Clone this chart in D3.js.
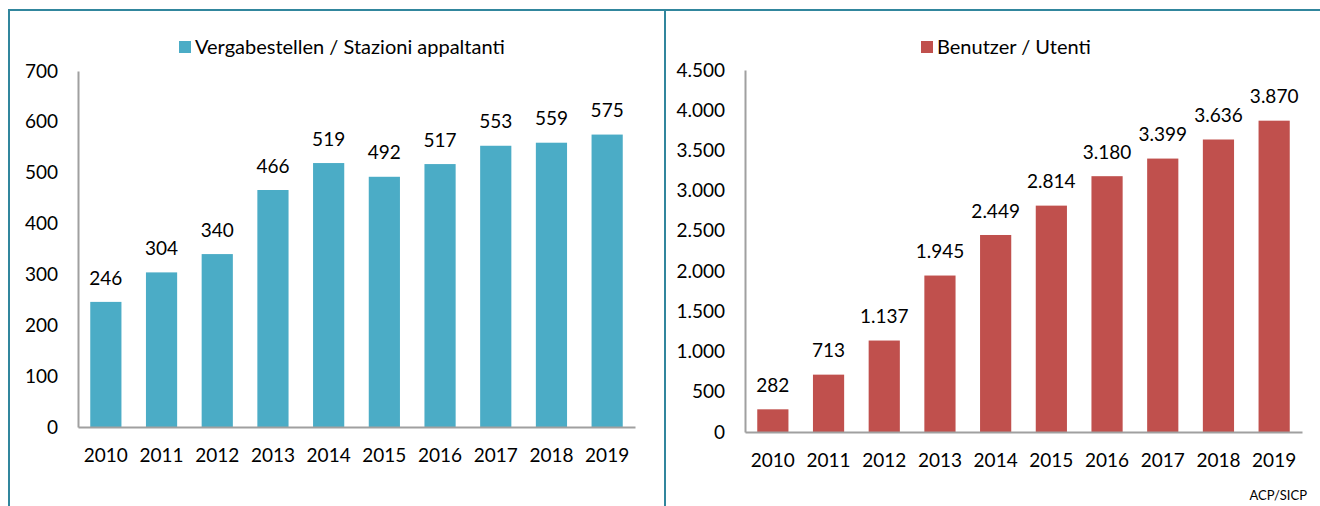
<!DOCTYPE html>
<html>
<head>
<meta charset="utf-8">
<script src="https://cdn.jsdelivr.net/npm/d3@7"></script>
<style>
  body { margin: 0; background: #fff; }
  svg { display: block; }
  text { font-family: Lato, "Open Sans", sans-serif; fill: #000; }
</style>
</head>
<body>
<div id="chart"></div>
<script>
// data
const years = ["2010", "2011", "2012", "2013", "2014", "2015", "2016", "2017", "2018", "2019"];
const stazioni = [246, 304, 340, 466, 519, 492, 517, 553, 559, 575];
const utenti = [282, 713, 1137, 1945, 2449, 2814, 3180, 3399, 3636, 3870];
const leftTicks = [0, 100, 200, 300, 400, 500, 600, 700];
const rightTicks = [0, 500, 1000, 1500, 2000, 2500, 3000, 3500, 4000, 4500];

const W = 1320, H = 506;
const frameColor = "#31869d";
const axisColor = "#a0a0a0";
const fontSize = 19;

// german number format: 1.137
const de = d3.formatLocale({ decimal: ",", thousands: ".", grouping: [3], currency: ["", " €"] });
const fmt = de.format(",d");

const svg = d3.select("#chart").append("svg")
    .attr("width", W)
    .attr("height", H);

svg.append("rect").attr("width", W).attr("height", H).attr("fill", "#fff");

// frame + divider
svg.append("path")
    .attr("d", "M9," + H + "V10H" + W)
    .attr("fill", "none")
    .attr("stroke", frameColor)
    .attr("stroke-width", 2);
svg.append("line")
    .attr("x1", 665).attr("x2", 665)
    .attr("y1", 10).attr("y2", H)
    .attr("stroke", frameColor)
    .attr("stroke-width", 2);

function drawChart(cfg) {
    const g = svg.append("g");

    const x = d3.scaleBand()
        .domain(years)
        .range([cfg.x0, cfg.x1])
        .paddingInner(0.44)
        .paddingOuter(0.22);

    const y = d3.scaleLinear()
        .domain([0, cfg.max])
        .range([cfg.y0, cfg.y1]);

    // bars
    g.selectAll("rect.bar")
        .data(cfg.values)
        .enter()
        .append("rect")
        .attr("class", "bar")
        .attr("x", function (d, i) { return x(years[i]); })
        .attr("y", function (d) { return y(d); })
        .attr("width", x.bandwidth())
        .attr("height", function (d) { return y(0) - y(d); })
        .attr("fill", cfg.color);

    // value labels
    g.selectAll("text.val")
        .data(cfg.values)
        .enter()
        .append("text")
        .attr("class", "val")
        .attr("x", function (d, i) { return x(years[i]) + x.bandwidth() / 2; })
        .attr("y", function (d) { return y(d) - 24; })
        .attr("dy", "0.35em")
        .attr("text-anchor", "middle")
        .style("font-size", fontSize + "px")
        .text(function (d) { return fmt(d); });

    // y axis
    const ya = g.append("g")
        .attr("transform", "translate(" + cfg.x0 + ",0)")
        .call(d3.axisLeft(y).tickValues(cfg.ticks).tickFormat(fmt).tickSize(0).tickSizeOuter(0).tickPadding(20));
    ya.select(".domain").attr("stroke", axisColor).attr("stroke-width", 2);
    ya.selectAll("text").style("font-size", fontSize + "px").attr("fill", "#000")
        .style("font-family", "Lato, sans-serif");

    // x axis
    const xa = g.append("g")
        .attr("transform", "translate(0," + cfg.y0 + ")")
        .call(d3.axisBottom(x).tickSize(0).tickSizeOuter(0).tickPadding(22));
    xa.select(".domain").attr("stroke", axisColor).attr("stroke-width", 2);
    xa.selectAll("text").style("font-size", fontSize + "px").attr("fill", "#000")
        .style("font-family", "Lato, sans-serif");

    // legend
    g.append("rect")
        .attr("x", cfg.legendX)
        .attr("y", 41)
        .attr("width", 12)
        .attr("height", 12)
        .attr("fill", cfg.color);
    g.append("text")
        .attr("x", cfg.legendX + 16)
        .attr("y", 47)
        .attr("dy", "0.35em")
        .style("font-size", "20px")
        .text(cfg.label);
}

drawChart({
    values: stazioni,
    ticks: leftTicks,
    max: 700,
    x0: 78, x1: 635,
    y0: 427, y1: 71,
    color: "#4bacc6",
    legendX: 179,
    label: "Vergabestellen / Stazioni appaltanti"
});

drawChart({
    values: utenti,
    ticks: rightTicks,
    max: 4500,
    x0: 745, x1: 1302,
    y0: 432, y1: 70,
    color: "#c0504d",
    legendX: 921,
    label: "Benutzer / Utenti"
});

// source note
svg.append("text")
    .attr("x", 1307)
    .attr("y", 495)
    .attr("dy", "0.35em")
    .attr("text-anchor", "end")
    .style("font-size", "13px")
    .text("ACP/SICP");
</script>
</body>
</html>
